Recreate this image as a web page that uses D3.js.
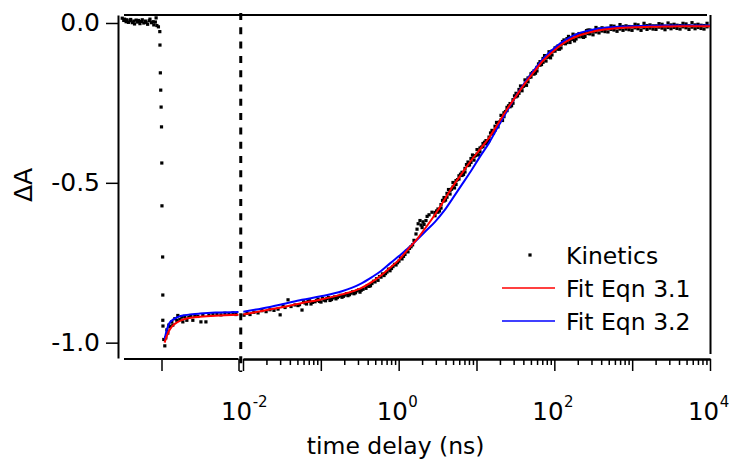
<!DOCTYPE html>
<html>
<head>
<meta charset="utf-8">
<script src="https://cdn.jsdelivr.net/npm/d3@7"></script>
<style>
    body { margin: 0; background: #fff; }
    svg { display: block; }
</style>
</head>
<body>
<div id="chart"></div>
<script>

// -- data: time delay (ns), dA --

var kinetics = [
    // before time zero
    [-0.0051, 0.015], [-0.0049, 0.008], [-0.0048, 0.012], [-0.0046, 0.004], [-0.0045, 0.010], [-0.0043, 0.002],
    [-0.0041, 0.007], [-0.0040, 0.011], [-0.0038, 0.001], [-0.0036, 0.006], [-0.0035, -0.003], [-0.0033, 0.009],
    [-0.0031, 0.003], [-0.0030, 0.008], [-0.0028, -0.002], [-0.0026, 0.005], [-0.0025, 0.010], [-0.0023, 0.000],
    [-0.0021, 0.006], [-0.0020, 0.002], [-0.0018, -0.004], [-0.0016, 0.007], [-0.0015, 0.012], [-0.0013, 0.001],
    [-0.0011, 0.004], [-0.0010, -0.006], [-0.0008, 0.003], [-0.0007, 0.016], [-0.0006, -0.008], [-0.0004, -0.012],
    // rise of the signal
    [-0.00022, -0.027], [-0.0002, -0.069], [-0.00015, -0.156], [-0.0001, -0.21], [-0.00005, -0.263], [0.0, -0.325],
    [0.00004, -0.438], [0.00006, -0.572], [0.00015, -0.732], [0.00017, -0.851],
    // early time
    [0.00017, -0.93], [0.00019, -0.948], [0.0003, -0.99], [0.00043, -1.01], [0.00056, -0.985], [0.0007, -0.96],
    [0.00082, -0.97], [0.00095, -0.945], [0.00108, -0.95], [0.00134, -0.935], [0.00147, -0.945], [0.00173, -0.925],
    [0.00199, -0.93], [0.00212, -0.915], [0.00238, -0.928], [0.00264, -0.92], [0.00277, -0.935], [0.00303, -0.918],
    [0.00329, -0.93], [0.00355, -0.92], [0.00381, -0.915], [0.00407, -0.93], [0.00433, -0.915], [0.00472, -0.918],
    [0.00512, -0.935], [0.00537, -0.912], [0.00577, -0.935], [0.00616, -0.914], [0.00668, -0.912], [0.0072, -0.91],
    [0.00772, -0.913], [0.00824, -0.908], [0.00876, -0.91], [0.00928, -0.907], [0.00967, -0.912],
    // log part
    [0.0103, -0.914], [0.01125, -0.908], [0.0123, -0.912], [0.0138, -0.905], [0.0156, -0.907], [0.0175, -0.900],
    [0.0198, -0.903], [0.0222, -0.897], [0.025, -0.899], [0.0282, -0.895], [0.030, -0.913], [0.0327, -0.885],
    [0.0347, -0.890], [0.0379, -0.866], [0.0414, -0.887], [0.0466, -0.882], [0.0509, -0.884], [0.0573, -0.898],
    [0.0532, -0.881], [0.0599, -0.872], [0.0655, -0.879], [0.0716, -0.869], [0.0782, -0.874], [0.088, -0.868],
    [0.0962, -0.871], [0.105, -0.862], [0.1149, -0.869], [0.1254, -0.859], [0.1371, -0.865], [0.1498, -0.857],
    [0.1637, -0.859], [0.1788, -0.852], [0.1955, -0.855], [0.2138, -0.847], [0.2336, -0.850], [0.2554, -0.841],
    [0.2788, -0.844], [0.3049, -0.835],
    [0.0627, -0.876], [0.0685, -0.871], [0.0748, -0.879], [0.0842, -0.872], [0.092, -0.864], [0.1005, -0.873],
    [0.1099, -0.867], [0.120, -0.862], [0.1312, -0.868], [0.1433, -0.860], [0.1566, -0.863], [0.171, -0.855],
    [0.187, -0.858], [0.2045, -0.851], [0.2234, -0.853], [0.2443, -0.845], [0.2667, -0.847], [0.2917, -0.838],
    [0.3187, -0.842], [0.3302, -0.836], [0.3483, -0.833], [0.3802, -0.830], [0.3958, -0.822], [0.4159, -0.824],
    [0.4344, -0.822], [0.4539, -0.815], [0.4748, -0.808], [0.4966, -0.810], [0.5192, -0.800], [0.5433, -0.805],
    [0.5674, -0.793], [0.5929, -0.795], [0.6198, -0.785], [0.6486, -0.790], [0.6775, -0.784], [0.7079, -0.779],
    [0.740, -0.770], [0.7745, -0.775], [0.809, -0.768], [0.8453, -0.762], [0.884, -0.755], [0.9247, -0.757],
    [0.966, -0.750], [1.009, -0.745], [1.055, -0.735], [1.104, -0.738], [1.154, -0.730], [1.205, -0.724],
    [1.26, -0.714], [1.318, -0.716], [1.378, -0.705], [1.442, -0.700], [1.51, -0.694], [1.574, -0.680],
    [1.67, -0.660], [1.722, -0.645], [1.78, -0.628], [1.879, -0.618], [1.94, -0.632], [2.00, -0.640],
    [2.056, -0.622], [2.12, -0.630], [2.244, -0.618], [2.32, -0.605], [2.455, -0.600], [2.679, -0.592],
    [2.931, -0.593], [2.931, -0.603], [3.199, -0.592], [3.199, -0.582], [3.499, -0.568], [3.499, -0.579],
    [3.828, -0.546], [3.828, -0.557], [4.178, -0.545], [4.178, -0.533], [4.571, -0.524], [4.571, -0.535],
    [4.989, -0.499], [4.989, -0.513], [5.458, -0.505], [5.458, -0.493], [5.957, -0.478], [5.957, -0.488],
    [6.516, -0.477], [6.516, -0.467], [7.112, -0.455], [7.112, -0.466], [7.780, -0.435], [7.780, -0.446],
    [8.492, -0.436], [8.492, -0.424], [9.290, -0.418], [9.290, -0.429], [10.16, -0.396], [10.16, -0.410],
    [11.09, -0.403], [11.09, -0.391], [12.13, -0.377], [12.13, -0.387], [13.24, -0.378], [13.24, -0.368],
    [14.49, -0.357], [14.49, -0.368], [15.81, -0.336], [15.81, -0.347], [17.30, -0.335], [17.30, -0.323],
    [18.88, -0.314], [18.88, -0.325], [20.65, -0.289], [20.65, -0.303], [22.54, -0.293], [22.54, -0.281],
    [24.66, -0.264], [24.66, -0.274], [26.98, -0.262], [26.98, -0.252], [29.44, -0.240], [29.44, -0.251],
    [32.21, -0.220], [32.21, -0.231], [35.16, -0.220], [35.16, -0.208], [38.46, -0.201], [38.46, -0.212],
    [41.98, -0.178], [41.98, -0.192], [45.92, -0.184], [45.92, -0.172], [50.12, -0.159], [50.12, -0.169],
    [54.83, -0.160], [54.83, -0.150], [59.84, -0.139], [59.84, -0.150], [65.46, -0.121], [65.46, -0.132],
    [71.61, -0.123], [71.61, -0.111], [78.16, -0.108], [78.16, -0.119], [85.5, -0.090], [85.5, -0.104],
    [93.3, -0.100], [93.3, -0.088], [102.1, -0.078], [102.1, -0.088], [111.4, -0.082], [111.4, -0.072],
    [121.9, -0.067], [121.9, -0.078], [133.0, -0.053], [133.0, -0.064], [145.5, -0.061], [145.5, -0.049],
    [158.9, -0.050], [158.9, -0.061], [173.8, -0.035], [173.8, -0.049], [190.1, -0.050], [190.1, -0.038],
    [207.6, -0.033], [207.6, -0.043], [227.0, -0.043], [227.0, -0.033], [247.8, -0.031], [247.8, -0.042],
    [271.0, -0.022], [271.0, -0.033],
    // in-between samples of the rise
    [3.064, -0.588], [3.344, -0.588], [3.658, -0.555], [4.002, -0.554], [4.368, -0.521], [4.779, -0.520],
    [5.216, -0.516], [5.706, -0.490], [6.228, -0.473], [6.812, -0.474], [7.435, -0.443], [8.133, -0.444],
    [8.878, -0.413], [9.712, -0.415], [10.62, -0.413], [11.59, -0.388], [12.68, -0.373], [13.84, -0.375],
    [15.15, -0.344], [16.53, -0.344], [18.09, -0.311], [19.74, -0.310], [21.59, -0.305], [23.56, -0.277],
    [25.78, -0.259], [28.21, -0.259], [30.78, -0.228], [33.67, -0.228], [36.76, -0.197], [40.21, -0.198],
    [43.89, -0.195], [48.0, -0.170], [52.4, -0.155], [57.3, -0.157], [62.6, -0.128], [68.4, -0.130],
    [74.9, -0.102], [81.7, -0.107], [89.4, -0.109], [97.5, -0.087], [106.7, -0.076], [116.5, -0.082],
    [127.4, -0.058], [139.0, -0.065], [152.1, -0.042], [166.1, -0.051], [181.7, -0.056], [198.7, -0.040],
    [217.0, -0.034], [237.3, -0.045], [259.1, -0.024],
    // long-time plateau
    [287, -0.034], [287, -0.022], [314, -0.026], [314, -0.037],
    [343, -0.014], [343, -0.028], [375, -0.031], [375, -0.019], [410, -0.015], [410, -0.025],
    [448, -0.027], [448, -0.017], [489, -0.017], [489, -0.028], [535, -0.009], [535, -0.020],
    [584, -0.022], [584, -0.010], [639, -0.015], [639, -0.026], [698, -0.005], [698, -0.019],
    [763, -0.023], [763, -0.011], [834, -0.009], [834, -0.019], [912, -0.021], [912, -0.011],
    [996, -0.012], [996, -0.023], [1089, -0.004], [1089, -0.015], [1189, -0.018], [1189, -0.006],
    [1300, -0.012], [1300, -0.023], [1420, -0.001], [1420, -0.015], [1552, -0.020], [1552, -0.008],
    [1694, -0.006], [1694, -0.016], [1854, -0.019], [1854, -0.009], [2024, -0.009], [2024, -0.020],
    [2213, -0.002], [2213, -0.013], [2421, -0.016], [2421, -0.004], [2642, -0.010], [2642, -0.021],
    [2891, 0.000], [2891, -0.014], [3155, -0.018], [3155, -0.006], [3451, -0.004], [3451, -0.014],
    [3767, -0.017], [3767, -0.007], [4121, -0.008], [4121, -0.019], [4498, -0.001], [4498, -0.012],
    [4920, -0.015], [4920, -0.003], [5370, -0.009], [5370, -0.020], [5875, 0.001], [5875, -0.013],
    [6427, -0.018], [6427, -0.006], [7015, -0.004], [7015, -0.014], [7674, -0.017], [7674, -0.007],
    [8375, -0.008], [8375, -0.019], [9162, -0.001], [9162, -0.012]
];

var fitEqn31 = [
    [0.0004, -1.0], [0.0006, -0.985], [0.001, -0.962], [0.0015, -0.946], [0.002, -0.937], [0.003, -0.926],
    [0.004, -0.921], [0.005, -0.919], [0.007, -0.916], [0.01, -0.913],
    [0.0101, -0.912], [0.0175, -0.901], [0.0317, -0.889], [0.0573, -0.876], [0.1, -0.865], [0.187, -0.849],
    [0.3187, -0.831], [0.4539, -0.810], [0.5929, -0.790], [0.7745, -0.766], [1.009, -0.741], [1.318, -0.708],
    [1.722, -0.676], [2.244, -0.639], [2.931, -0.599], [3.828, -0.555], [4.989, -0.510], [6.516, -0.470],
    [8.492, -0.431], [11.09, -0.395], [14.49, -0.359], [18.88, -0.315], [24.66, -0.270], [32.21, -0.229],
    [41.98, -0.189], [54.83, -0.153], [71.61, -0.118], [93.3, -0.092], [121.9, -0.069], [158.9, -0.051],
    [207.6, -0.039], [271, -0.031], [375, -0.023], [535, -0.018], [763, -0.015], [1089, -0.013],
    [1694, -0.012], [2642, -0.011], [4121, -0.010], [10000, -0.010]
];

var fitEqn32 = [
    [0.0004, -0.99], [0.0006, -0.968], [0.001, -0.94], [0.0015, -0.928], [0.002, -0.921], [0.003, -0.914],
    [0.004, -0.911], [0.005, -0.909], [0.007, -0.906], [0.01, -0.904],
    [0.0101, -0.903], [0.0175, -0.893], [0.0317, -0.880], [0.0573, -0.866], [0.1, -0.855], [0.187, -0.839],
    [0.3187, -0.817], [0.4539, -0.795], [0.5929, -0.776], [0.7745, -0.752], [1.009, -0.729], [1.318, -0.705],
    [1.722, -0.678], [2.244, -0.650], [2.931, -0.622], [3.828, -0.588], [4.989, -0.547], [6.516, -0.505],
    [8.492, -0.463], [11.09, -0.418], [14.49, -0.375], [18.88, -0.325], [24.66, -0.275], [32.21, -0.228],
    [41.98, -0.186], [54.83, -0.148], [71.61, -0.112], [93.3, -0.085], [121.9, -0.062], [158.9, -0.045],
    [207.6, -0.032], [271, -0.024], [375, -0.017], [535, -0.013], [763, -0.011], [1089, -0.010],
    [1694, -0.009], [2642, -0.008], [4121, -0.008], [10000, -0.008]
];

var yTicks = [0, -0.5, -1.0];
var linTicks = [0, 0.01];                 // left (linear) part of the time axis
var decades = [-2, -1, 0, 1, 2, 3, 4];    // log part
var labelledDecades = [-2, 0, 2, 4];
var legendLabels = ["Kinetics", "Fit Eqn 3.1", "Fit Eqn 3.2"];
var fitColors = ["#ff0000", "#0000ff"];


// -- layout --

var width = 729;
var height = 461;
var font = "'DejaVu Sans', sans-serif";
var fs = 23.5;      // legend + title
var fsTick = 25;

var svg = d3.select("#chart").append("svg")
    .attr("width", width)
    .attr("height", height);

// broken time axis: linear around time zero, log after 10 ps
var xLin = d3.scaleLinear().domain([-0.005, 0.01]).range([123, 238.5]);
var xLog = d3.scaleLog().domain([0.01, 1e4]).range([243, 710]);
var brk = 0.01;

function x(t) {
    return t <= brk ? xLin(t) : xLog(t);
}

var y = d3.scaleLinear().domain([-1.048, 0.025]).range([358, 15]);

var axisY = 359;
var axisX = 118;


// frame (mirror lines top / right)
svg.append("line")
    .attr("x1", 124).attr("x2", 707)
    .attr("y1", y(0.025)).attr("y2", y(0.025))
    .style("stroke", "black").style("stroke-width", 2);
svg.append("line")
    .attr("x1", 710.5).attr("x2", 710.5)
    .attr("y1", y(0.025)).attr("y2", 354)
    .style("stroke", "black").style("stroke-width", 2);

// dashed marker at the axis break
var xb = (xLin(brk) + xLog(brk)) / 2;
svg.append("line")
    .attr("x1", xb).attr("x2", xb)
    .attr("y1", 13).attr("y2", 372)
    .style("stroke", "black")
    .style("stroke-width", 3)
    .style("stroke-dasharray", "7,7.3");


// -- axes --

function styleAxis(g) {
    g.select(".domain").style("stroke", "black").style("stroke-width", 2);
    g.selectAll(".tick line").style("stroke", "black").style("stroke-width", 1.5);
    g.selectAll("text").attr("font-family", font).attr("font-size", fsTick + "px").style("fill", "black");
}

svg.append("g")
    .attr("transform", "translate(" + axisX + ",0)")
    .call(d3.axisLeft(y).tickValues(yTicks).tickSize(12).tickSizeOuter(0).tickPadding(6)
        .tickFormat(function (d) { return d.toFixed(1); }))
    .call(styleAxis);

// linear segment
var gxl = svg.append("g")
    .attr("transform", "translate(0," + axisY + ")")
    .call(d3.axisBottom(xLin).tickValues(linTicks).tickSize(12).tickSizeOuter(0).tickFormat(""))
    .call(styleAxis);
gxl.select(".domain").attr("d", "M124,0H" + xLin(brk));

// log segment, minor ticks
var minor = [];
decades.slice(0, -1).forEach(function (e) {
    for (var k = 2; k < 10; k++) minor.push(k * Math.pow(10, e));
});
svg.append("g")
    .attr("transform", "translate(0," + axisY + ")")
    .call(d3.axisBottom(xLog).tickValues(minor).tickSize(6).tickSizeOuter(0).tickFormat(""))
    .call(styleAxis);

// log segment, major ticks
svg.append("g")
    .attr("transform", "translate(0," + axisY + ")")
    .call(d3.axisBottom(xLog).tickValues(decades.map(function (e) { return Math.pow(10, e); }))
        .tickSize(12).tickSizeOuter(0).tickFormat(""))
    .call(styleAxis);

// 10^n labels ("10" sits a bit left of the tick, exponent follows)
var lab = svg.append("g")
    .attr("font-family", font)
    .attr("font-size", "24.5px");
labelledDecades.forEach(function (e) {
    var t = lab.append("text")
        .attr("x", xLog(Math.pow(10, e)) - 22)
        .attr("y", 420);
    t.append("tspan").text("10");
    t.append("tspan").attr("dx", 0.5).attr("dy", -13).attr("font-size", "15px").text(e);
});

// axis titles
svg.append("text")
    .attr("x", xLog(1) - 3).attr("y", 454)
    .attr("text-anchor", "middle")
    .attr("font-family", font).attr("font-size", fs + "px")
    .text("time delay (ns)");

svg.append("text")
    .attr("transform", "translate(32,185) rotate(-90)")
    .attr("text-anchor", "middle")
    .attr("font-family", font).attr("font-size", fsTick + "px")
    .text("\u0394A");


// -- traces --

var ms = 3.2;
svg.append("g").selectAll("rect")
    .data(kinetics)
    .enter().append("rect")
    .attr("x", function (d) { return x(d[0]) - ms / 2; })
    .attr("y", function (d) { return y(d[1]) - ms / 2; })
    .attr("width", ms).attr("height", ms)
    .style("fill", "black");

var line = d3.line()
    .x(function (d) { return x(d[0]); })
    .y(function (d) { return y(d[1]); })
    .curve(d3.curveMonotoneX);

function drawFit(data, color) {
    var early = data.filter(function (d) { return d[0] <= brk; });
    var late = data.filter(function (d) { return d[0] > brk; });
    [early, late].forEach(function (part) {
        svg.append("path")
            .attr("d", line(part))
            .style("fill", "none")
            .style("stroke", color)
            .style("stroke-width", 2);
    });
}

drawFit(fitEqn32, fitColors[1]);
drawFit(fitEqn31, fitColors[0]);


// -- legend --

var lg = svg.append("g").attr("font-family", font).attr("font-size", fs + "px");
var rowY = [255, 288, 321];

lg.append("rect")
    .attr("x", 530 - ms / 2).attr("y", rowY[0] - ms / 2)
    .attr("width", ms).attr("height", ms)
    .style("fill", "black");
[1, 2].forEach(function (i) {
    lg.append("line")
        .attr("x1", 502).attr("x2", 555)
        .attr("y1", rowY[i]).attr("y2", rowY[i])
        .style("stroke", fitColors[i - 1])
        .style("stroke-width", 1.5);
});
legendLabels.forEach(function (s, i) {
    lg.append("text")
        .attr("x", 566).attr("y", rowY[i] + 8.5)
        .text(s);
});

</script>
</body>
</html>
